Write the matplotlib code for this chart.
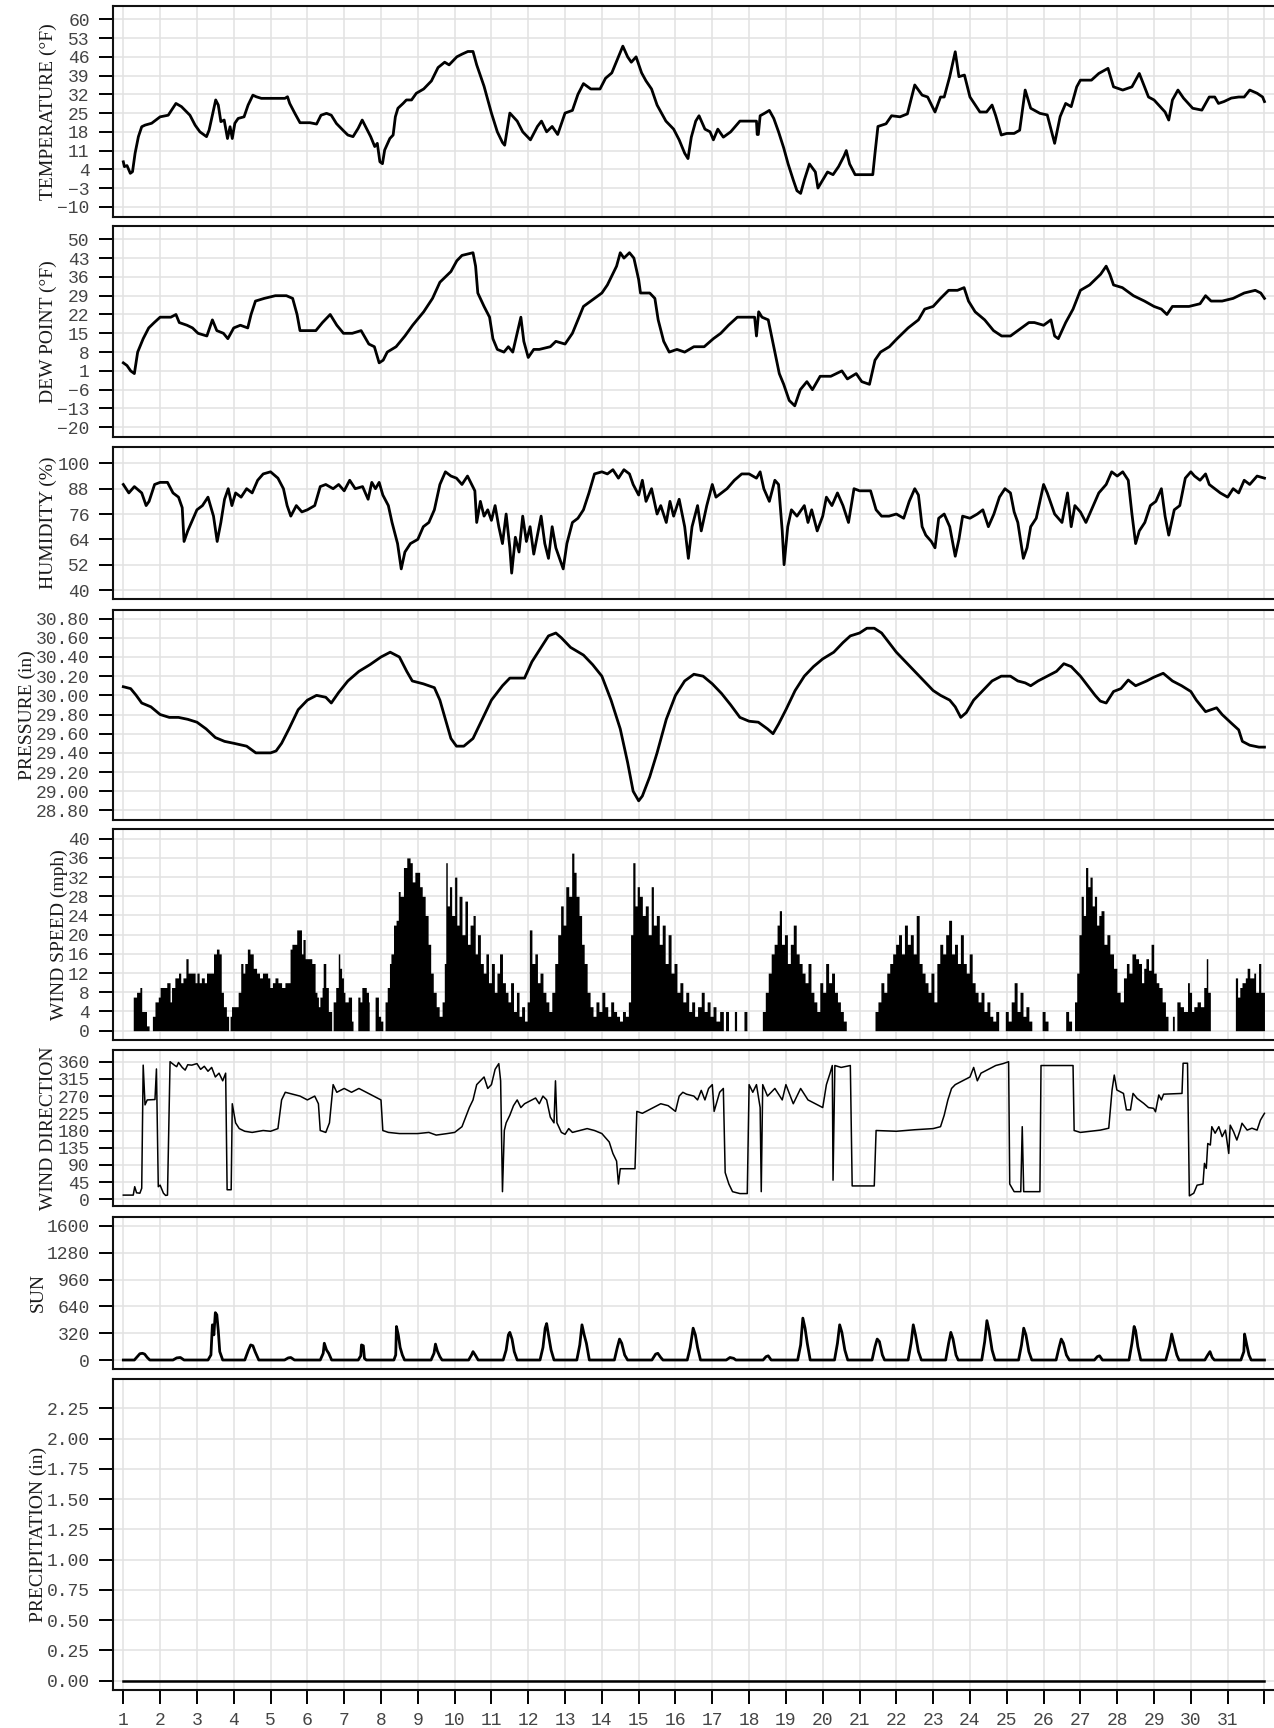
import matplotlib
matplotlib.use("Agg")
import matplotlib.pyplot as plt
from matplotlib.ticker import FormatStrFormatter

# ---- data (day of month, value) ----
temp_day = [1.0, 1.03, 1.1, 1.19, 1.25, 1.32, 1.41, 1.5, 1.59, 1.77, 2.0, 2.22, 2.31, 2.43, 2.58, 2.81, 2.95,
            3.08, 3.26, 3.33, 3.42, 3.51, 3.58, 3.65, 3.74, 3.83, 3.9, 3.96, 4.03, 4.12, 4.28, 4.39, 4.52, 4.61,
            4.75, 5.39, 5.46, 5.52, 5.66, 5.8, 6.07, 6.25, 6.37, 6.52, 6.65, 6.79, 7.01, 7.1, 7.24, 7.38, 7.49,
            7.56, 7.72, 7.83, 7.9, 7.97, 8.04, 8.1, 8.24, 8.33, 8.39, 8.46, 8.6, 8.69, 8.83, 8.96, 9.16, 9.37,
            9.55, 9.73, 9.85, 10.06, 10.2, 10.36, 10.5, 10.6, 10.8, 11.0, 11.16, 11.3, 11.36, 11.5, 11.7, 11.85,
            12.06, 12.25, 12.36, 12.5, 12.65, 12.8, 13.0, 13.2, 13.35, 13.5, 13.7, 13.95, 14.1, 14.27, 14.45,
            14.57, 14.7, 14.8, 14.93, 15.08, 15.2, 15.35, 15.5, 15.74, 15.95, 16.1, 16.25, 16.34, 16.43, 16.55,
            16.64, 16.8, 16.94, 17.03, 17.15, 17.3, 17.5, 17.75, 18.2, 18.22, 18.25, 18.3, 18.43, 18.55, 18.67,
            18.8, 18.94, 19.06, 19.2, 19.3, 19.4, 19.5, 19.64, 19.8, 19.87, 20.0, 20.13, 20.28, 20.43, 20.58,
            20.64, 20.73, 20.88, 21.27, 21.36, 21.42, 21.5, 21.72, 21.87, 22.1, 22.3, 22.5, 22.7, 22.85, 23.05,
            23.2, 23.3, 23.45, 23.6, 23.7, 23.85, 24.0, 24.27, 24.45, 24.6, 24.7, 24.85, 25.0, 25.2, 25.35, 25.5,
            25.65, 25.9, 26.1, 26.3, 26.45, 26.6, 26.75, 26.9, 27.0, 27.3, 27.5, 27.75, 27.9, 28.15, 28.4, 28.6,
            28.85, 29.0, 29.3, 29.4, 29.5, 29.65, 29.8, 30.05, 30.3, 30.5, 30.65, 30.75, 30.9, 31.1, 31.3, 31.45,
            31.6, 31.8, 31.95, 32.0]
temp_val = [6.8, 5, 5.4, 2.5, 3.1, 10, 16.2, 19.9, 20.5, 21.2, 23.6, 24.2, 26.1, 28.6, 27.4, 24.2, 20.5,
            18, 16.2, 18.6, 24.2, 29.9, 28, 21.8, 22.4, 15.5, 19.9, 15.5, 21.2, 23, 23.6, 28, 31.7, 31.1,
            30.5, 30.5, 31.1, 28.6, 24.9, 21.4, 21.4, 20.9, 24.2, 24.9, 24.2, 21.1, 18, 16.8, 16.2, 19.3, 22.4,
            20.5, 16.2, 12.5, 13.7, 6.8, 6.1, 11.2, 15.5, 16.8, 23.6, 26.8, 28.6, 29.9, 29.9, 32.4, 34, 37,
            42, 44, 43, 46, 47, 48, 48, 43, 35, 25, 18, 14, 13, 25, 22, 18,
            15, 20, 22, 18, 20, 17, 25, 26, 32, 36, 34, 34, 38, 40, 46,
            50, 46, 44, 46, 40, 37, 34, 28, 22, 19, 15, 10, 8, 16, 22,
            24, 19, 18, 15, 19, 16, 18, 22, 22, 17, 17, 24, 25, 26, 23,
            18, 12, 6, 0, -4, -5, 0, 6, 3, -3, 0, 3, 2, 5, 9,
            11, 6, 2, 2, 2, 10, 20, 21, 24, 23.6, 24.7, 35.5, 31.7, 31, 25.4,
            31, 31, 38.6, 47.9, 38.6, 39.2, 31, 25.4, 25.4, 28, 24, 16.8, 17.4, 17.4, 18.6, 33.6,
            26.8, 24.9, 24.3, 13.7, 23.7, 28.6, 27.4, 34.8, 37.3, 37.3, 39.8, 41.7, 34.8, 33.6, 34.8, 39.8,
            31, 29.9, 25.4, 22.4, 29.9, 33.6, 30.6, 26.8, 26.1, 31, 31, 28.6, 29.3, 30.6, 31, 31,
            33.6, 32.4, 31, 29.3]

dew_day = [1.0, 1.1, 1.2, 1.3, 1.39, 1.54, 1.69, 1.84, 2.0, 2.29, 2.43, 2.52, 2.73, 2.88, 3.03, 3.27, 3.42,
           3.54, 3.72, 3.84, 4.0, 4.18, 4.38, 4.47, 4.59, 4.83, 5.13, 5.43, 5.6, 5.72, 5.8, 6.0, 6.23, 6.41,
           6.62, 6.8, 6.98, 7.22, 7.46, 7.67, 7.82, 7.95, 8.06, 8.17, 8.41, 8.65, 8.86, 9.16, 9.4, 9.6, 9.9,
           10.06, 10.2, 10.5, 10.57, 10.63, 10.8, 10.95, 11.04, 11.16, 11.34, 11.46, 11.58, 11.7, 11.8, 11.88,
           12.0, 12.15, 12.3, 12.6, 12.75, 13.0, 13.2, 13.35, 13.5, 13.8, 14.0, 14.15, 14.4, 14.5, 14.6, 14.75,
           14.87, 15.0, 15.05, 15.3, 15.44, 15.53, 15.68, 15.83, 16.04, 16.25, 16.5, 16.78, 17.03, 17.23,
           17.44, 17.68, 17.97, 18.15, 18.2, 18.26, 18.35, 18.52, 18.67, 18.82, 18.94, 19.09, 19.24, 19.39,
           19.57, 19.72, 19.93, 20.22, 20.52, 20.67, 20.91, 21.06, 21.27, 21.42, 21.57, 21.81, 22.02, 22.32,
           22.6, 22.77, 23.0, 23.2, 23.42, 23.66, 23.84, 23.96, 24.14, 24.4, 24.64, 24.86, 25.1, 25.3, 25.6,
           25.75, 26.0, 26.2, 26.3, 26.4, 26.6, 26.8, 27.0, 27.25, 27.55, 27.7, 27.8, 27.9, 28.14, 28.44,
           28.74, 29.0, 29.2, 29.35, 29.5, 29.95, 30.25, 30.4, 30.55, 30.85, 31.15, 31.45, 31.75, 31.9, 32.0]
dew_val = [4, 3, 1, 0, 8, 13, 17, 19, 21, 21, 22, 19, 18, 17, 15, 14, 20,
           16, 15, 13, 17, 18, 17, 22, 27, 28, 29, 29, 28, 22, 16, 16, 16, 19,
           22, 18, 15, 15, 16, 11, 10, 4, 5, 8, 10, 14, 18, 23, 28, 34, 38,
           42, 44, 45, 40, 30, 25, 21, 13, 9, 8, 10, 8, 15, 21, 12,
           6, 9, 9, 10, 12, 11, 15, 20, 25, 28, 30, 33, 40, 45, 43, 45,
           43, 35, 30, 30, 28, 20, 12, 8, 9, 8, 10, 10, 13, 15,
           18, 21, 21, 21, 14, 23, 21, 20, 10, 0, -4, -10, -12, -6,
           -3, -6, -1, -1, 1, -2, 0, -3, -4, 5, 8, 10, 13, 17,
           20, 24, 25, 28, 31, 31, 32, 27, 23, 20, 16, 14, 14, 16, 19,
           19, 18, 20, 14, 13, 19, 24, 31, 33, 37, 40, 37, 33, 32, 29,
           27, 25, 24, 22, 25, 25, 26, 29, 27, 27, 28, 30, 31, 30, 28]

hum_day = [1.0, 1.15, 1.3, 1.5, 1.62, 1.7, 1.85, 2.0, 2.2, 2.35, 2.5, 2.6, 2.65, 2.75, 2.85, 3.0, 3.15, 3.3,
           3.45, 3.55, 3.65, 3.75, 3.85, 3.95, 4.05, 4.2, 4.35, 4.5, 4.65, 4.8, 5.0, 5.2, 5.35, 5.45, 5.55,
           5.7, 5.85, 6.0, 6.2, 6.35, 6.5, 6.7, 6.85, 7.0, 7.15, 7.3, 7.5, 7.65, 7.75, 7.85, 7.95, 8.05, 8.2,
           8.3, 8.45, 8.55, 8.65, 8.8, 9.0, 9.15, 9.3, 9.45, 9.6, 9.75, 9.9, 10.05, 10.2, 10.35, 10.55, 10.6,
           10.7, 10.8, 10.9, 11.0, 11.1, 11.2, 11.3, 11.4, 11.5, 11.55, 11.65, 11.75, 11.85, 11.95, 12.05,
           12.15, 12.25, 12.35, 12.45, 12.55, 12.65, 12.75, 12.85, 12.95, 13.05, 13.2, 13.35, 13.5, 13.65,
           13.8, 14.0, 14.15, 14.3, 14.45, 14.6, 14.75, 14.85, 15.0, 15.1, 15.2, 15.35, 15.5, 15.6, 15.75,
           15.85, 15.95, 16.1, 16.25, 16.35, 16.45, 16.6, 16.7, 16.85, 17.0, 17.1, 17.25, 17.4, 17.6, 17.8,
           18.0, 18.2, 18.3, 18.4, 18.55, 18.7, 18.8, 18.9, 18.95, 19.05, 19.15, 19.3, 19.5, 19.6, 19.7,
           19.85, 20.0, 20.1, 20.25, 20.4, 20.55, 20.7, 20.85, 21.0, 21.3, 21.45, 21.6, 21.8, 22.0, 22.2,
           22.35, 22.5, 22.6, 22.7, 22.8, 22.95, 23.05, 23.15, 23.3, 23.45, 23.6, 23.7, 23.8, 24.0, 24.2,
           24.35, 24.5, 24.65, 24.8, 24.95, 25.1, 25.2, 25.3, 25.45, 25.55, 25.65, 25.8, 26.0, 26.1, 26.3,
           26.5, 26.65, 26.75, 26.85, 27.0, 27.15, 27.3, 27.5, 27.7, 27.85, 28.0, 28.15, 28.3, 28.4, 28.5,
           28.6, 28.75, 28.9, 29.05, 29.2, 29.3, 29.4, 29.55, 29.7, 29.85, 30.0, 30.1, 30.25, 30.4, 30.5,
           30.65, 30.8, 31.0, 31.15, 31.3, 31.45, 31.6, 31.8, 32.0]
hum_val = [90, 86, 89, 86, 80, 82, 90, 91, 91, 86, 84, 79, 63, 68, 72, 78, 80, 84,
           75, 63, 72, 83, 88, 80, 86, 84, 88, 86, 92, 95, 96, 93, 88, 80, 75,
           80, 77, 78, 80, 89, 90, 88, 90, 87, 92, 88, 89, 83, 91, 88, 91, 85, 80,
           72, 62, 50, 58, 62, 64, 70, 72, 78, 90, 96, 94, 93, 90, 94, 87, 72,
           82, 75, 78, 73, 80, 70, 62, 76, 60, 48, 65, 58, 75, 63, 70,
           57, 66, 75, 62, 55, 70, 60, 55, 50, 62, 72, 74, 78, 86,
           95, 96, 95, 97, 93, 97, 95, 90, 85, 92, 82, 88, 76, 80, 72,
           82, 75, 83, 70, 55, 70, 80, 68, 80, 90, 84, 86, 88, 92, 95,
           95, 93, 96, 88, 82, 92, 90, 68, 52, 70, 78, 75, 80, 72, 78,
           68, 75, 84, 80, 86, 80, 72, 88, 87, 87, 78, 75, 75, 76, 74,
           82, 88, 85, 70, 66, 63, 60, 74, 76, 70, 56, 64, 75, 74, 76,
           78, 70, 76, 84, 88, 86, 77, 72, 55, 60, 70, 74, 90, 86, 76,
           72, 86, 70, 80, 77, 72, 78, 86, 90, 96, 94, 96, 92, 76, 62,
           68, 72, 80, 82, 88, 75, 66, 78, 80, 93, 96, 94, 92, 95, 90,
           88, 86, 84, 88, 86, 92, 90, 94, 93]

pres_day = [1.0, 1.2, 1.35, 1.5, 1.75, 2.0, 2.25, 2.5, 2.75, 3.0, 3.25, 3.5, 3.75, 4.0, 4.35, 4.6, 5.0,
            5.15, 5.3, 5.5, 5.75, 6.0, 6.25, 6.5, 6.65, 6.85, 7.1, 7.4, 7.7, 8.0, 8.25, 8.5, 8.7, 8.85, 9.15,
            9.45, 9.6, 9.75, 9.9, 10.05, 10.25, 10.5, 10.75, 11.0, 11.3, 11.5, 11.75, 11.9, 12.1, 12.35,
            12.55, 12.75, 12.9, 13.15, 13.5, 13.75, 14.0, 14.25, 14.5, 14.7, 14.85, 15.0, 15.1, 15.3, 15.5,
            15.75, 16.0, 16.25, 16.5, 16.75, 17.0, 17.25, 17.5, 17.75, 18.0, 18.25, 18.5, 18.65, 18.8, 19.0,
            19.25, 19.5, 19.75, 20.0, 20.3, 20.55, 20.75, 21.0, 21.2, 21.4, 21.6, 21.8, 22.0, 22.25, 22.5,
            22.75, 23.0, 23.2, 23.45, 23.6, 23.75, 23.9, 24.1, 24.35, 24.6, 24.85, 25.1, 25.3, 25.5, 25.65,
            25.85, 26.1, 26.35, 26.55, 26.75, 27.0, 27.2, 27.4, 27.54, 27.7, 27.9, 28.1, 28.3, 28.5, 28.8,
            29.0, 29.25, 29.5, 29.75, 30.0, 30.15, 30.4, 30.7, 30.85, 31.1, 31.3, 31.4, 31.6, 31.85, 32.0]
pres_val = [30.09, 30.07, 30.0, 29.92, 29.88, 29.80, 29.77, 29.77, 29.75, 29.72, 29.65, 29.56, 29.52, 29.50,
            29.47, 29.40, 29.40, 29.42, 29.50, 29.65, 29.85, 29.95, 30.0, 29.98, 29.92, 30.03, 30.15, 30.25,
            30.32, 30.40, 30.45, 30.40, 30.25, 30.15, 30.12, 30.08, 29.95, 29.75, 29.55, 29.47, 29.47, 29.55,
            29.75, 29.95, 30.10, 30.18, 30.18, 30.18, 30.35, 30.50, 30.62, 30.65, 30.60, 30.50, 30.42, 30.32,
            30.20, 29.95, 29.65, 29.30, 29.00, 28.90, 28.95, 29.15, 29.40, 29.75, 30.00, 30.15, 30.22, 30.20,
            30.12, 30.02, 29.90, 29.77, 29.73, 29.72, 29.65, 29.60, 29.70, 29.85, 30.05, 30.20, 30.30, 30.38,
            30.45, 30.55, 30.62, 30.65, 30.70, 30.70, 30.65, 30.55, 30.45, 30.35, 30.25, 30.15, 30.05, 30.00,
            29.95, 29.88, 29.77, 29.82, 29.95, 30.05, 30.15, 30.20, 30.20, 30.15, 30.13, 30.10, 30.15, 30.20,
            30.25, 30.33, 30.30, 30.20, 30.10, 30.00, 29.94, 29.92, 30.04, 30.07, 30.16, 30.10, 30.15, 30.19,
            30.23, 30.15, 30.10, 30.04, 29.95, 29.83, 29.87, 29.80, 29.71, 29.64, 29.52, 29.48, 29.46, 29.46]

wind_day = [1.0, 1.27, 1.36, 1.45, 1.5, 1.63, 1.70, 1.79, 1.86, 1.95, 2.0, 2.1, 2.18, 2.27, 2.31, 2.4, 2.5,
            2.56, 2.62, 2.7, 2.76, 2.86, 2.95, 3.0, 3.06, 3.12, 3.2, 3.26, 3.35, 3.45, 3.53, 3.6, 3.66, 3.72,
            3.8, 3.86, 3.9, 3.94, 4.08, 4.12, 4.19, 4.25, 4.3, 4.37, 4.44, 4.53, 4.62, 4.7, 4.78, 4.86, 4.92,
            4.98, 5.05, 5.12, 5.2, 5.3, 5.39, 5.48, 5.53, 5.58, 5.66, 5.71, 5.78, 5.84, 5.88, 5.94, 6.04, 6.12,
            6.21, 6.26, 6.3, 6.34, 6.4, 6.43, 6.5, 6.57, 6.66, 6.7, 6.77, 6.84, 6.88, 6.93, 6.98, 7.02, 7.11,
            7.2, 7.24, 7.37, 7.43, 7.48, 7.55, 7.6, 7.66, 7.68, 7.84, 7.9, 7.93, 7.99, 8.05, 8.11, 8.17, 8.23,
            8.27, 8.34, 8.41, 8.47, 8.52, 8.61, 8.7, 8.79, 8.85, 8.92, 8.99, 9.05, 9.12, 9.2, 9.28, 9.35, 9.42,
            9.5, 9.58, 9.66, 9.72, 9.76, 9.8, 9.86, 9.92, 10.0, 10.06, 10.12, 10.2, 10.28, 10.35, 10.42, 10.5,
            10.56, 10.62, 10.7, 10.78, 10.85, 10.92, 11.0, 11.08, 11.15, 11.22, 11.3, 11.38, 11.45, 11.52,
            11.6, 11.68, 11.75, 11.82, 11.9, 11.97, 12.03, 12.1, 12.18, 12.25, 12.32, 12.4, 12.48, 12.56,
            12.64, 12.72, 12.8, 12.88, 12.95, 13.02, 13.1, 13.18, 13.24, 13.3, 13.38, 13.45, 13.52, 13.6,
            13.68, 13.76, 13.84, 13.92, 14.0, 14.08, 14.16, 14.24, 14.32, 14.4, 14.48, 14.56, 14.64, 14.72,
            14.78, 14.84, 14.9, 14.96, 15.02, 15.1, 15.18, 15.26, 15.34, 15.4, 15.48, 15.56, 15.64, 15.72,
            15.8, 15.88, 15.96, 16.04, 16.12, 16.2, 16.28, 16.36, 16.44, 16.52, 16.6, 16.7, 16.78, 16.86,
            16.94, 17.02, 17.1, 17.2, 17.3, 17.36, 17.44, 17.6, 17.66, 17.86, 17.94, 18.36, 18.44, 18.52,
            18.6, 18.68, 18.76, 18.82, 18.88, 18.96, 19.04, 19.12, 19.2, 19.28, 19.36, 19.44, 19.52, 19.6,
            19.68, 19.76, 19.84, 19.92, 20.0, 20.08, 20.16, 20.24, 20.32, 20.4, 20.48, 20.56, 20.64, 21.42,
            21.5, 21.58, 21.66, 21.74, 21.82, 21.9, 21.98, 22.06, 22.14, 22.22, 22.3, 22.38, 22.46, 22.54,
            22.62, 22.7, 22.78, 22.86, 22.94, 23.02, 23.1, 23.18, 23.26, 23.34, 23.42, 23.5, 23.58, 23.66,
            23.74, 23.82, 23.9, 23.98, 24.06, 24.14, 24.22, 24.3, 24.38, 24.46, 24.54, 24.62, 24.7, 24.78,
            24.96, 25.04, 25.12, 25.2, 25.28, 25.36, 25.44, 25.52, 25.6, 25.68, 25.96, 26.04, 26.12, 26.6,
            26.68, 26.76, 26.84, 26.9, 26.96, 27.02, 27.08, 27.14, 27.2, 27.26, 27.32, 27.38, 27.44, 27.5,
            27.56, 27.64, 27.72, 27.8, 27.9, 27.99, 28.08, 28.17, 28.25, 28.32, 28.4, 28.5, 28.58, 28.66,
            28.72, 28.78, 28.85, 28.92, 28.99, 29.06, 29.13, 29.22, 29.31, 29.38, 29.5, 29.55, 29.62, 29.71,
            29.8, 29.91, 29.96, 30.02, 30.08, 30.17, 30.26, 30.35, 30.42, 30.46, 30.53, 31.21, 31.27, 31.33,
            31.39, 31.48, 31.53, 31.6, 31.71, 31.76, 31.84, 31.9, 32.0]
wind_val = [0, 7, 8, 9, 4, 1, 0, 3, 6, 7, 9, 9, 10, 6, 9, 11, 12,
            10, 11, 15, 12, 12, 10, 12, 10, 11, 10, 12, 12, 16, 17, 16, 8, 5,
            3, 0, 3, 5, 5, 8, 14, 12, 14, 17, 16, 13, 12, 11, 12, 12, 11,
            9, 10, 11, 10, 9, 10, 10, 17, 18, 18, 21, 21, 16, 19, 15, 15, 14,
            8, 7, 5, 7, 9, 14, 9, 4, 0, 6, 9, 16, 13, 11, 8, 6, 7,
            2, 0, 7, 6, 9, 9, 8, 6, 0, 7, 7, 3, 2, 0, 6, 9, 14,
            16, 22, 23, 29, 28, 34, 36, 35, 31, 33, 33, 30, 28, 24, 18, 12, 8,
            5, 3, 6, 14, 35, 26, 30, 24, 32, 22, 28, 20, 27, 18, 22, 24,
            16, 20, 14, 12, 16, 10, 14, 8, 12, 16, 10, 8, 6, 10,
            4, 8, 3, 5, 2, 6, 21, 14, 16, 10, 12, 8, 6, 4,
            8, 14, 20, 26, 22, 30, 28, 37, 33, 28, 24, 18, 14, 8,
            5, 3, 6, 4, 8, 5, 3, 6, 4, 3, 2, 4, 3, 6,
            20, 35, 26, 30, 28, 24, 26, 20, 30, 22, 24, 18, 22, 14,
            20, 12, 14, 8, 10, 6, 8, 4, 6, 3, 5, 8, 4, 6,
            3, 5, 2, 4, 0, 4, 0, 4, 0, 4, 0, 4, 8, 12,
            16, 18, 22, 25, 18, 20, 14, 18, 22, 16, 14, 12, 10, 14,
            8, 6, 4, 10, 8, 14, 10, 12, 8, 6, 4, 2, 0, 4,
            6, 10, 8, 12, 14, 16, 18, 20, 16, 22, 18, 20, 16, 24,
            14, 12, 10, 8, 12, 6, 14, 18, 16, 20, 23, 16, 18, 14,
            20, 14, 12, 16, 10, 8, 6, 8, 4, 6, 3, 2, 4, 0,
            4, 2, 6, 10, 4, 8, 3, 5, 2, 0, 4, 2, 0, 4,
            2, 0, 6, 12, 20, 28, 24, 34, 30, 32, 26, 28, 22, 24,
            25, 18, 20, 16, 13, 8, 6, 11, 14, 12, 16, 15, 14, 10,
            13, 15, 12.6, 18, 12, 10, 9, 6, 3, 0, 3, 0, 6, 5,
            4, 10, 8, 4, 5, 6, 5, 9, 15, 8, 0, 11, 7, 9,
            10, 11, 13, 11, 12, 8, 14, 8, 8]

dir_day = [1.0, 1.27, 1.31, 1.36, 1.45, 1.5, 1.54, 1.59, 1.65, 1.86, 1.9, 1.95, 2.0, 2.09, 2.15, 2.2, 2.27,
           2.32, 2.4, 2.45, 2.5, 2.6, 2.68, 2.75, 2.86, 3.0, 3.1, 3.2, 3.3, 3.4, 3.5, 3.6, 3.7, 3.78, 3.82,
           3.93, 3.96, 4.05, 4.15, 4.3, 4.5, 4.8, 5.0, 5.2, 5.3, 5.4, 5.6, 5.8, 6.0, 6.2, 6.3, 6.35, 6.5,
           6.6, 6.7, 6.8, 7.0, 7.2, 7.4, 7.6, 7.8, 8.0, 8.05, 8.2, 8.5, 9.0, 9.3, 9.5, 9.8, 10.0, 10.2,
           10.4, 10.5, 10.6, 10.7, 10.8, 10.9, 11.0, 11.1, 11.2, 11.25, 11.3, 11.35, 11.4, 11.5, 11.6,
           11.7, 11.8, 11.9, 12.0, 12.2, 12.3, 12.4, 12.5, 12.6, 12.7, 12.74, 12.78, 12.9, 13.0, 13.1,
           13.2, 13.4, 13.6, 13.8, 14.0, 14.2, 14.3, 14.4, 14.45, 14.5, 14.9, 14.95, 15.1, 15.2, 15.4,
           15.6, 15.8, 16.0, 16.1, 16.2, 16.3, 16.5, 16.6, 16.7, 16.8, 16.9, 17.0, 17.05, 17.2, 17.3,
           17.35, 17.45, 17.55, 17.75, 17.95, 18.0, 18.1, 18.2, 18.3, 18.33, 18.37, 18.5, 18.7, 18.9,
           19.0, 19.2, 19.4, 19.6, 19.8, 20.0, 20.1, 20.2, 20.26, 20.28, 20.33, 20.5, 20.75, 20.8, 21.4,
           21.45, 22.0, 22.5, 23.0, 23.2, 23.3, 23.4, 23.5, 23.6, 23.8, 24.0, 24.1, 24.2, 24.3, 24.5,
           24.7, 24.9, 25.05, 25.08, 25.2, 25.38, 25.42, 25.46, 25.9, 25.93, 26.8, 26.83, 27.0, 27.54,
           27.77, 27.86, 27.92, 27.99, 28.17, 28.25, 28.36, 28.43, 28.54, 28.72, 28.85, 28.99, 29.04,
           29.13, 29.2, 29.26, 29.76, 29.79, 29.91, 29.96, 30.08, 30.17, 30.33, 30.37, 30.42, 30.46,
           30.53, 30.57, 30.66, 30.76, 30.85, 30.94, 31.03, 31.07, 31.16, 31.25, 31.34, 31.39, 31.53,
           31.66, 31.8, 31.89, 32.0]
dir_val = [11, 11, 33, 17, 16, 29, 351, 247, 260, 261, 341, 33, 37, 16, 10, 11, 360,
           356, 350, 347, 358, 345, 338, 352, 351, 355, 340, 348, 335, 345, 320, 330, 310, 330, 25,
           25, 250, 200, 185, 178, 175, 180, 178, 185, 260, 280, 275, 270, 260, 270, 250, 180, 175,
           200, 300, 280, 290, 280, 290, 280, 270, 260, 180, 175, 172, 172, 175, 168, 172, 175, 190,
           240, 260, 300, 310, 320, 290, 300, 340, 355, 310, 20, 180, 200, 220, 245,
           260, 240, 250, 255, 265, 250, 270, 260, 215, 200, 310, 200, 175, 170, 185,
           175, 180, 185, 180, 172, 150, 120, 100, 40, 80, 80, 230, 225, 230, 240,
           250, 245, 230, 270, 280, 275, 270, 260, 285, 260, 290, 300, 230, 280, 290,
           70, 40, 20, 15, 15, 300, 280, 300, 240, 20, 300, 270, 290, 260,
           300, 250, 290, 260, 250, 240, 300, 330, 350, 50, 350, 345, 350, 35, 35,
           180, 178, 182, 185, 190, 220, 260, 290, 300, 310, 320, 345, 310, 330, 340,
           350, 355, 360, 40, 20, 20, 190, 20, 20, 350, 350, 180, 175, 181,
           186, 286, 325, 286, 277, 234, 234, 277, 264, 251, 240, 238, 229,
           273, 260, 275, 277, 356, 356, 9, 16, 37, 40, 94, 81, 146,
           142, 190, 173, 190, 164, 181, 120, 194, 177, 155, 181, 199, 181,
           186, 181, 207, 225]

sun_day = [1.0, 1.3, 1.38, 1.45, 1.52, 1.58, 1.65, 1.72, 2.35, 2.45, 2.55, 2.65,
           3.3, 3.38, 3.42, 3.46, 3.5, 3.54, 3.58, 3.62, 3.7, 4.3, 4.4, 4.46, 4.52, 4.58, 4.68,
           5.38, 5.48, 5.55, 5.65, 6.35, 6.43, 6.46, 6.52, 6.58, 6.66, 7.38, 7.45, 7.47, 7.52, 7.55, 7.6,
           8.35, 8.4, 8.42, 8.47, 8.52, 8.58, 8.64, 9.36, 9.44, 9.48, 9.53, 9.6, 9.66,
           10.38, 10.46, 10.5, 10.56, 10.64, 11.32, 11.4, 11.46, 11.5, 11.56, 11.62, 11.7,
           12.32, 12.4, 12.46, 12.5, 12.55, 12.62, 12.7, 13.32, 13.4, 13.46, 13.52, 13.58, 13.66,
           14.34, 14.42, 14.48, 14.54, 14.62, 14.7, 15.36, 15.46, 15.52, 15.6, 15.66,
           16.32, 16.4, 16.48, 16.54, 16.6, 16.68, 17.38, 17.48, 17.58, 17.64, 18.38, 18.46, 18.52, 18.6,
           19.32, 19.4, 19.46, 19.52, 19.58, 19.66, 20.32, 20.4, 20.46, 20.52, 20.6, 20.68,
           21.34, 21.42, 21.48, 21.54, 21.62, 21.68, 22.32, 22.4, 22.46, 22.52, 22.6, 22.68,
           23.34, 23.42, 23.48, 23.54, 23.62, 23.68, 24.32, 24.4, 24.46, 24.52, 24.6, 24.68,
           25.32, 25.4, 25.46, 25.52, 25.6, 25.68, 26.34, 26.42, 26.48, 26.54, 26.62, 26.7,
           27.38, 27.46, 27.52, 27.6, 28.32, 28.4, 28.46, 28.5, 28.56, 28.64,
           29.32, 29.42, 29.48, 29.54, 29.62, 29.68, 30.38, 30.46, 30.52, 30.58, 30.64,
           31.36, 31.44, 31.46, 31.52, 31.58, 31.64, 32.0]
sun_val = [0, 0, 40, 75, 80, 70, 30, 0, 0, 25, 30, 0,
           0, 60, 420, 300, 565, 540, 350, 100, 0, 0, 120, 180, 170, 100, 0,
           0, 25, 30, 0, 0, 80, 200, 120, 80, 0, 0, 50, 180, 170, 20, 0,
           0, 60, 400, 300, 150, 60, 0, 0, 80, 190, 110, 40, 0,
           0, 60, 100, 60, 0, 0, 120, 300, 330, 250, 100, 0,
           0, 150, 380, 435, 300, 120, 0, 0, 180, 420, 300, 200, 0,
           0, 150, 250, 200, 60, 0, 0, 70, 80, 30, 0,
           0, 150, 380, 300, 150, 0, 0, 30, 20, 0, 0, 40, 50, 0,
           0, 180, 500, 380, 200, 0, 0, 200, 420, 330, 120, 0,
           0, 160, 250, 220, 60, 0, 0, 200, 420, 300, 100, 0,
           0, 200, 330, 250, 60, 0, 0, 220, 470, 350, 120, 0,
           0, 180, 380, 300, 100, 0, 0, 150, 250, 200, 60, 0,
           0, 40, 50, 0, 0, 200, 400, 350, 160, 0,
           0, 160, 310, 200, 60, 0, 0, 60, 100, 30, 0,
           0, 100, 310, 180, 60, 0, 0]

precip_day = [1, 32]
precip_val = [0.0, 0.0]

days = list(range(1, 33))
day_labels = [str(d) for d in range(1, 32)] + [""]

W, H = 1274, 1728
fig = plt.figure(figsize=(W / 100, H / 100), dpi=100)
fig.patch.set_facecolor("white")

left, right = 113.3, 1275.5
# (top, bottom) of each panel in pixels
boxes = [(5.7, 216.7), (226, 436.7), (446.7, 599.3), (610, 820),
         (829.3, 1040), (1050, 1206), (1216.7, 1369.3), (1379.3, 1690)]

mono = "Liberation Mono"
serif = "Liberation Serif"
tick_grey = "#444444"

axes = []
for top, bottom in boxes:
    ax = fig.add_axes([left / W, 1 - bottom / H, (right - left) / W, (bottom - top) / H])
    ax.set_xlim(0.728, 32.3)
    ax.set_xticks(days)
    ax.grid(True, color="#e2e2e2", lw=1.1)
    ax.set_axisbelow(True)
    for s in ax.spines.values():
        s.set_linewidth(1.5)
        s.set_color("#111111")
    ax.tick_params(axis="y", length=10, width=1.4, pad=7, labelsize=13, labelcolor=tick_grey)
    ax.tick_params(axis="x", length=0, labelbottom=False)
    axes.append(ax)

ax_t, ax_d, ax_h, ax_p, ax_w, ax_wd, ax_s, ax_r = axes

ax_t.plot(temp_day, temp_val, color="black", lw=2.0)
ax_t.set_ylim(-13.7, 65.1)
ax_t.set_yticks(range(-10, 61, 7))
ax_t.set_ylabel("TEMPERATURE (°F)")

ax_d.plot(dew_day, dew_val, color="black", lw=2.0)
ax_d.set_ylim(-23.5, 54.95)
ax_d.set_yticks(range(-20, 51, 7))
ax_d.set_ylabel("DEW POINT (°F)")

ax_h.plot(hum_day, hum_val, color="black", lw=2.0)
ax_h.set_ylim(35.6, 107.9)
ax_h.set_yticks(range(40, 101, 12))
ax_h.set_ylabel("HUMIDITY (%)")

ax_p.plot(pres_day, pres_val, color="black", lw=2.0)
ax_p.set_ylim(28.70, 30.89)
ax_p.set_yticks([28.8 + 0.2 * i for i in range(11)])
ax_p.yaxis.set_major_formatter(FormatStrFormatter("%.2f"))
ax_p.set_ylabel("PRESSURE (in)")

ax_w.fill_between(wind_day, 0, wind_val, step="post", color="black", lw=0)
ax_w.set_ylim(-1.94, 41.96)
ax_w.set_yticks(range(0, 41, 4))
ax_w.set_ylabel("WIND SPEED (mph)")

ax_wd.plot(dir_day, dir_val, color="black", lw=1.1)
ax_wd.set_ylim(-17.5, 390.6)
ax_wd.set_yticks(range(0, 361, 45))
ax_wd.set_ylabel("WIND DIRECTION")

ax_s.plot(sun_day, sun_val, color="black", lw=2.0)
ax_s.set_ylim(-111, 1711)
ax_s.set_yticks(range(0, 1601, 320))
ax_s.set_ylabel("SUN")

ax_r.plot(precip_day, precip_val, color="black", lw=1.8)
ax_r.set_ylim(-0.077, 2.49)
ax_r.set_yticks([0.25 * i for i in range(10)])
ax_r.yaxis.set_major_formatter(FormatStrFormatter("%.2f"))
ax_r.set_ylabel("PRECIPITATION (in)")
ax_r.tick_params(axis="x", length=10, width=1.4, pad=6, labelsize=13, labelcolor=tick_grey,
                 labelbottom=True)
ax_r.set_xticklabels(day_labels)

for ax in axes:
    ax.yaxis.label.set_fontfamily(serif)
    ax.yaxis.label.set_fontsize(14)
    ax.yaxis.label.set_color("#1a1a1a")
    ax.yaxis.labelpad = 0
    for lab in ax.get_yticklabels() + ax.get_xticklabels():
        lab.set_fontfamily(mono)

fig.savefig("out.png", dpi=100)
